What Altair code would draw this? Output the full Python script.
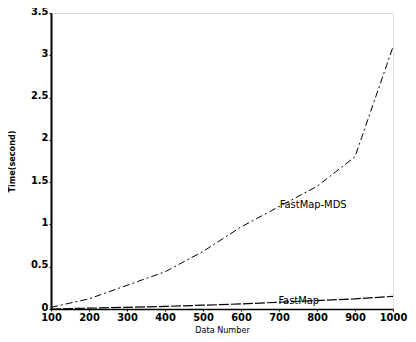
import altair as alt
import pandas as pd

data_number = [100, 200, 300, 400, 500, 600, 700, 800, 900, 1000]
fastmap_mds = [0.02, 0.12, 0.28, 0.44, 0.68, 0.97, 1.21, 1.45, 1.80, 3.10]
fastmap = [0.0, 0.01, 0.02, 0.03, 0.045, 0.06, 0.08, 0.10, 0.12, 0.15]

label_names = ["FastMap-MDS", "FastMap"]
label_x = [790, 752]
label_y = [1.23, 0.10]

df = pd.DataFrame({
    "n": data_number * 2,
    "t": fastmap_mds + fastmap,
    "s": ["FastMap-MDS"] * len(data_number) + ["FastMap"] * len(data_number),
})
lab = pd.DataFrame({"n": label_x, "t": label_y, "name": label_names})

xs = alt.Scale(domain=[100, 1000], nice=False, zero=False)
ys = alt.Scale(domain=[0, 3.5], nice=False)

FONT = "Liberation Sans Narrow, DejaVu Sans Condensed, sans-serif"

xax = alt.Axis(values=data_number, title="Data Number", grid=False, tickSize=2,
               format="d",
               labelFont=FONT, labelFontSize=11, labelFontWeight="bold",
               labelColor="black", titleFont=FONT, titleFontSize=9,
               titleFontWeight="normal", titleColor="black", titlePadding=3,
               domainColor="black", domainWidth=1.5, tickColor="black", labelPadding=0,
               labelFlush=False, labelOverlap=False)
yax = alt.Axis(values=[0, 0.5, 1, 1.5, 2, 2.5, 3, 3.5], title="Time(second)", grid=False,
               tickSize=2, labelFont=FONT, labelFontSize=11,
               labelFontWeight="bold", labelColor="black", titleFont=FONT,
               titleFontSize=9, titleFontWeight="bold", titleColor="black",
               titlePadding=14, domainColor="black", domainWidth=2, tickColor="black",
               labelPadding=1, labelFlush=False, labelOverlap=False, labelBaseline="middle",
               labelOffset=-2,
               labelExpr="datum.value == 0 ? '0' : format(datum.value, '.1~f')")

X = alt.X("n:Q", scale=xs, axis=xax)
Y = alt.Y("t:Q", scale=ys, axis=yax)

base = alt.Chart(df).encode(x=X, y=Y)

mds = base.transform_filter(alt.datum.s == "FastMap-MDS").mark_line(
    color="black", strokeWidth=1, strokeDash=[7, 3, 2, 3]
)
fm = base.transform_filter(alt.datum.s == "FastMap").mark_line(
    color="black", strokeWidth=1.2, strokeDash=[10, 2]
)
txt = alt.Chart(lab).mark_text(
    font=FONT, fontSize=11, color="black", fontWeight="normal"
).encode(x=X, y=Y, text="name:N")

chart = alt.layer(mds, fm, txt).properties(
    width=342, height=296,
    autosize=alt.AutoSizeParams(type="none"),
    padding={"left": 43, "top": 5, "right": 15, "bottom": 25},
).configure_view(stroke=None).configure(background="white")

chart.save("out.html", embed_options={"renderer": "svg", "actions": False})
